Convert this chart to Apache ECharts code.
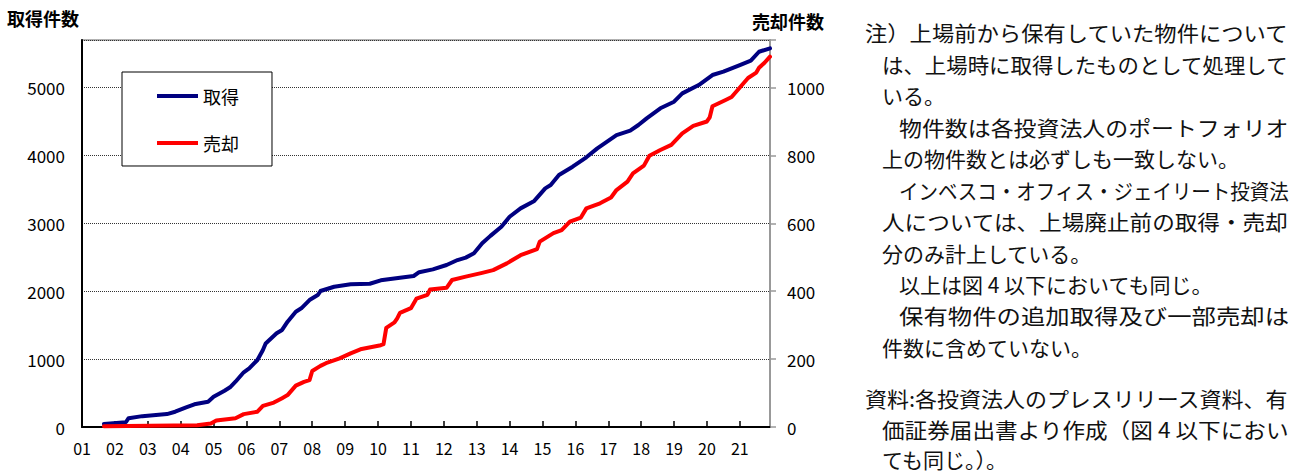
<!DOCTYPE html>
<html>
<head>
<meta charset="utf-8">
<script src="https://cdn.jsdelivr.net/npm/echarts@6/dist/echarts.min.js"></script>
<style>
  html, body { margin: 0; padding: 0; background: #fff; }
  #chart { width: 1306px; height: 475px; }
</style>
</head>
<body>
<div id="chart"></div>
<script>
// ---------- DATA ----------
const xTickLabels = ['01','02','03','04','05','06','07','08','09','10','11','12','13','14','15','16','17','18','19','20','21'];
const leftTickLabels = [0, 1000, 2000, 3000, 4000, 5000];
const rightTickLabels = [0, 200, 400, 600, 800, 1000];

const acqMonths = ['2001-09','2002-05','2002-06','2002-11','2003-08','2003-11','2004-03','2004-06','2004-11','2005-01',
  '2005-05','2005-07','2005-09','2005-12','2006-02','2006-05','2006-07','2006-08','2006-12','2007-02',
  '2007-04','2007-07','2007-09','2007-12','2008-03','2008-04','2008-09','2009-03','2009-10','2010-02',
  '2010-09','2011-02','2011-04','2011-09','2012-02','2012-06','2012-09','2012-12','2013-03','2013-06',
  '2013-10','2014-01','2014-05','2014-10','2015-02','2015-04','2015-07','2015-12','2016-05','2016-09',
  '2017-04','2017-09','2017-12','2018-03','2018-08','2019-01','2019-04','2019-10','2020-03','2020-07',
  '2021-01','2021-05','2021-08','2021-12'];
const acqCounts = [45,70,130,160,190,225,290,334,373,446,
  535,585,667,806,864,987,1134,1230,1380,1429,
  1551,1698,1748,1870,1944,2003,2066,2101,2110,2160,
  2199,2224,2280,2322,2386,2459,2495,2558,2705,2815,
  2950,3097,3220,3330,3515,3564,3711,3834,3972,4104,
  4300,4364,4448,4546,4694,4791,4914,5037,5184,5233,
  5331,5395,5527,5577];

const saleMonths = ['2001-09','2004-07','2004-12','2005-02','2005-09','2005-12','2006-05','2006-07','2006-11','2007-02',
  '2007-04','2007-07','2007-10','2007-12','2008-01','2008-04','2008-06','2008-11','2009-03','2009-07',
  '2010-02','2010-03','2010-04','2010-07','2010-08','2010-09','2011-01','2011-03','2011-07','2011-08',
  '2012-02','2012-04','2012-09','2013-03','2013-07','2013-12','2014-05','2014-11','2014-12','2015-05',
  '2015-08','2015-11','2016-03','2016-05','2016-10','2017-02','2017-04','2017-08','2017-10','2018-02',
  '2018-04','2018-08','2018-12','2019-04','2019-08','2020-01','2020-02','2020-03','2020-08','2020-10',
  '2021-01','2021-04','2021-07','2021-08','2021-10','2021-12'];
const saleCounts = [2,5,10,19,26,38,45,62,72,85,
  94,122,133,138,165,180,188,202,217,230,
  241,244,292,308,320,336,350,378,389,405,
  410,433,443,454,462,482,506,524,546,571,
  580,605,617,644,659,676,698,723,747,770,
  799,816,831,865,887,900,912,945,964,972,
  1000,1028,1044,1058,1073,1091];

const seriesNames = ['取得', '売却'];
const leftAxisTitle = '取得件数';
const rightAxisTitle = '売却件数';

const noteLines = [
  '注）上場前から保有していた物件について',
  'は、上場時に取得したものとして処理して',
  'いる。',
  '物件数は各投資法人のポートフォリオ',
  '上の物件数とは必ずしも一致しない。',
  'インベスコ・オフィス・ジェイリート投資法',
  '人については、上場廃止前の取得・売却',
  '分のみ計上している。',
  '以上は図 4 以下においても同じ。',
  '保有物件の追加取得及び一部売却は',
  '件数に含めていない。',
  '資料:各投資法人のプレスリリース資料、有',
  '価証券届出書より作成（図 4 以下におい',
  'ても同じ。）。'
];
const noteKinds = ['head','cont','cont','para','cont','para','cont','cont','para','para','cont','head','cont','cont'];

// ---------- BUILD ----------
function monthToYear(s) {
  const p = s.split('-');
  return Number(p[0]) + (Number(p[1]) - 1) / 12;
}
const acqData = acqMonths.map((m, i) => [monthToYear(m), acqCounts[i]]);
const saleData = saleMonths.map((m, i) => [monthToYear(m), saleCounts[i]]);

const FONT = '"Noto Sans CJK JP", "Noto Sans", sans-serif';
const NOTE_SIZE = 21;
const measureCtx = document.createElement('canvas').getContext('2d');
measureCtx.font = NOTE_SIZE + 'px "Noto Sans CJK JP"';

const indentX = { head: 865, cont: 882, para: 899 };
const noteRight = 1289;
const noteGraphics = noteLines.map((t, i) => {
  const x = indentX[noteKinds[i]];
  const y = i <= 10 ? 32 + 31.5 * i : 398 + 30.5 * (i - 11);
  const justify = i + 1 < noteLines.length && noteKinds[i + 1] === 'cont';
  const w = measureCtx.measureText(t).width;
  let sx = 1;
  if (justify && w > 0) sx = (noteRight - x) / w;
  else if (x + w > noteRight && w > 0) sx = (noteRight - x) / w;
  return {
    type: 'text', x: x, y: y, scaleX: sx, silent: true,
    style: { text: t, fill: '#111', font: NOTE_SIZE + 'px ' + FONT, textVerticalAlign: 'middle', textAlign: 'left' }
  };
});

const chart = echarts.init(document.getElementById('chart'), null, { renderer: 'svg' });
const option = {
  animation: false,
  backgroundColor: '#fff',
  textStyle: { fontFamily: FONT },
  grid: { left: 82, top: 40, width: 688, height: 387, show: true, borderColor: '#999', borderWidth: 1.5, backgroundColor: 'transparent' },
  legend: {
    data: seriesNames,
    orient: 'vertical',
    left: 122, top: 72,
    padding: [15, 33, 14, 35],
    itemGap: 29,
    itemWidth: 41, itemHeight: 4,
    icon: 'rect',
    backgroundColor: '#fff',
    borderColor: '#000', borderWidth: 1,
    textStyle: { fontSize: 18, color: '#000', fontFamily: FONT },
    selectedMode: false
  },
  xAxis: {
    type: 'value',
    min: 2001, max: 2021 + 11 / 12, interval: 1,
    axisLine: { show: true, lineStyle: { color: '#000', width: 2 } },
    axisTick: { show: true, inside: true, length: 6, lineStyle: { color: '#000', width: 1.5 } },
    splitLine: { show: false },
    axisLabel: {
      margin: 13, fontSize: 16, color: '#000', fontFamily: FONT,
      showMaxLabel: false,
      formatter: v => xTickLabels[Math.round(v) - 2001] || ''
    }
  },
  yAxis: [
    {
      type: 'value', min: 0, max: 5700, interval: 1000, position: 'left',
      axisLine: { show: true, lineStyle: { color: '#000', width: 2 } },
      axisTick: { show: false },
      splitLine: { show: true, lineStyle: { color: '#333', width: 1, type: 'dotted' } },
      axisLabel: {
        margin: 17, fontSize: 17, color: '#000', fontFamily: FONT,
        formatter: v => leftTickLabels.indexOf(v) >= 0 ? String(v) : ''
      }
    },
    {
      type: 'value', min: 0, max: 1140, interval: 200, position: 'right',
      axisLine: { show: true, lineStyle: { color: '#999', width: 2 } },
      axisTick: { show: true, inside: false, length: 6, lineStyle: { color: '#999', width: 1.5 } },
      splitLine: { show: false },
      axisLabel: {
        margin: 17, fontSize: 17, color: '#000', fontFamily: FONT,
        formatter: v => rightTickLabels.indexOf(v) >= 0 ? String(v) : ''
      }
    }
  ],
  series: [
    {
      name: seriesNames[0], type: 'line', yAxisIndex: 0, data: acqData,
      symbol: 'none', showSymbol: false, color: '#000080',
      lineStyle: { color: '#000080', width: 4, cap: 'round', join: 'round' }, z: 3
    },
    {
      name: seriesNames[1], type: 'line', yAxisIndex: 1, data: saleData,
      symbol: 'none', showSymbol: false, color: '#ff0000',
      lineStyle: { color: '#ff0000', width: 4, cap: 'round', join: 'round' }, z: 4
    }
  ],
  graphic: [
    { type: 'text', x: 7, y: 18, silent: true,
      style: { text: leftAxisTitle, fill: '#000', font: 'bold 18px ' + FONT, textVerticalAlign: 'middle', textAlign: 'left' } },
    { type: 'text', x: 752, y: 21, silent: true,
      style: { text: rightAxisTitle, fill: '#000', font: 'bold 18px ' + FONT, textVerticalAlign: 'middle', textAlign: 'left' } }
  ].concat(noteGraphics)
};
chart.setOption(option);
</script>
</body>
</html>
